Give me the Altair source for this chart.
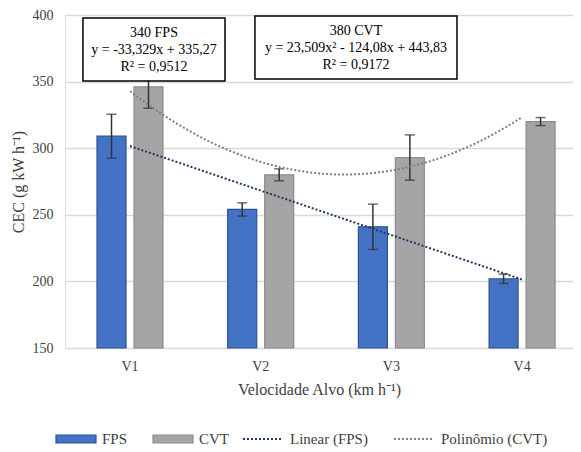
import altair as alt
import pandas as pd

# ---------------- data ----------------
categories = ["V1", "V2", "V3", "V4"]
cat_index = [1, 2, 3, 4]
fps_mean = [309, 254, 241, 202]
fps_sd = [16.5, 5, 17, 3.5]
cvt_mean = [346, 280, 293, 320]
cvt_sd = [16, 4.5, 17, 3]
series_names = ["FPS", "CVT"]
series_fill = ["#4472C4", "#A5A5A5"]
trend_names = ["Linear (FPS)", "Polinômio (CVT)"]
trend_colors = ["#203864", "#7F7F7F"]
y_ticks = [150, 200, 250, 300, 350, 400]
box_fps_lines = ["340 FPS", "y = -33,329x + 335,27", "R² = 0,9512"]
box_cvt_lines = ["380 CVT", "y = 23,509x² - 124,08x + 443,83", "R² = 0,9172"]
# annotation boxes (data space: category index / CEC value)
box_x0 = [0.64, 1.956]
box_x1 = [1.727, 3.502]
box_y0 = [350.4, 352.0]
box_y1 = [397.7, 399.2]
box_text_y = [386.5, 388.0]

FONT = "Liberation Serif"
W, H = 508, 333
N = len(categories)
P_IN, P_OUT, ALIGN = 0.495, 0.191, 0.641

rows = []
for s, means, sds in (("FPS", fps_mean, fps_sd), ("CVT", cvt_mean, cvt_sd)):
    for c, i, m, sd in zip(categories, cat_index, means, sds):
        rows.append({"cat": c, "idx": i, "series": s, "val": m,
                     "lo": m - sd, "hi": m + sd, "base": 150})
df = pd.DataFrame(rows)

boxes = pd.DataFrame({
    "x0": box_x0, "x1": box_x1, "y0": box_y0, "y1": box_y1,
    "xc": [(a + b) / 2 for a, b in zip(box_x0, box_x1)],
    "yc": box_text_y,
    "lines": [box_fps_lines, box_cvt_lines],
})

# quantitative x domain aligned with band centres
step = W / (N - P_IN + 2 * P_OUT)
band_start = (W - step * (N - P_IN)) * ALIGN
center0 = band_start + step * (1 - P_IN) / 2
qdom = [1 - center0 / step, 1 + (W - center0) / step]

yscale = alt.Scale(domain=[150, 400], nice=False, zero=False)

xband = alt.X("cat:N", scale=alt.Scale(paddingInner=P_IN, paddingOuter=P_OUT,
                                       align=ALIGN, round=False),
              sort=categories,
              axis=alt.Axis(title="Velocidade Alvo (km h⁻¹)", labelAngle=0,
                            domain=False, ticks=False, labelPadding=11,
                            titlePadding=8, labelFontSize=14, titleFontSize=16,
                            labelColor="#404040", titleColor="#404040",
                            titleFontWeight="normal", labelFont=FONT,
                            titleFont=FONT))
xoff = alt.XOffset("series:N", sort=series_names,
                   scale=alt.Scale(domain=series_names, paddingInner=0.216,
                                   paddingOuter=0))

base = alt.Chart(df)

bars = base.mark_bar(strokeWidth=1.2).encode(
    x=xband, xOffset=xoff,
    y=alt.Y("val:Q", scale=yscale,
            axis=alt.Axis(values=y_ticks, title="CEC (g kW h⁻¹)", domain=False,
                          ticks=False, labelPadding=12, grid=True,
                          gridColor="#D9D9D9", gridWidth=1.5,
                          labelFontSize=14, titleFontSize=16,
                          labelColor="#404040", titleColor="#404040",
                          titleFontWeight="normal", labelFont=FONT,
                          titleFont=FONT, titleX=-39)),
    y2="base:Q",
    color=alt.Color("series:N", sort=series_names,
                    scale=alt.Scale(domain=series_names, range=series_fill),
                    legend=alt.Legend(title=None, orient="none", direction="horizontal",
                                      legendX=-10, legendY=403,
                                      symbolType="M-1,-0.2H1V0.2H-1Z",
                                      symbolSize=1600, symbolStrokeWidth=1.2,
                                      symbolStrokeColor="#2F528F",
                                      labelFontSize=15, labelFont=FONT,
                                      labelColor="#404040", labelOffset=5,
                                      columnPadding=22)),
    stroke=alt.Stroke("series:N", sort=series_names,
                      scale=alt.Scale(domain=series_names,
                                      range=["#2F528F", "#8C8C8C"]),
                      legend=None),
)

err = base.mark_rule(color="#333333", strokeWidth=1.5).encode(
    x=alt.X("cat:N", sort=categories), xOffset=alt.XOffset("series:N", sort=series_names),
    y="lo:Q", y2="hi:Q")
cap_lo = base.mark_tick(color="#333333", thickness=1.5, size=10, orient="horizontal").encode(
    x=alt.X("cat:N", sort=categories), xOffset=alt.XOffset("series:N", sort=series_names),
    y="lo:Q")
cap_hi = base.mark_tick(color="#333333", thickness=1.5, size=10, orient="horizontal").encode(
    x=alt.X("cat:N", sort=categories), xOffset=alt.XOffset("series:N", sort=series_names),
    y="hi:Q")

band_layer = alt.layer(bars, err, cap_lo, cap_hi)

xq = alt.X("idx:Q", scale=alt.Scale(domain=qdom, nice=False, zero=False), axis=None)

trend_color = alt.Color("trend:N", sort=trend_names,
                        scale=alt.Scale(domain=trend_names, range=trend_colors),
                        legend=alt.Legend(title=None, orient="none", direction="horizontal",
                                          legendX=177, legendY=403,
                                          symbolType="stroke", symbolSize=1600,
                                          symbolStrokeWidth=2, symbolDash=[2, 2],
                                          labelFontSize=15, labelFont=FONT,
                                          labelColor="#404040", labelOffset=6,
                                          columnPadding=22))

lin = base.transform_filter(alt.datum.series == "FPS").transform_regression(
    "idx", "val", method="linear", extent=[1, 4]
).transform_calculate(trend="'Linear (FPS)'").mark_line(
    strokeWidth=2, strokeDash=[2, 2]).encode(
    x=xq, y=alt.Y("val:Q"), color=trend_color)

poly = base.transform_filter(alt.datum.series == "CVT").transform_regression(
    "idx", "val", method="poly", order=2, extent=[1, 4]
).transform_calculate(trend="'Polinômio (CVT)'").mark_line(
    strokeWidth=2, strokeDash=[2, 2]).encode(
    x=alt.X("idx:Q"), y=alt.Y("val:Q"), color=trend_color)

box_rect = alt.Chart(boxes).mark_rect(fill="white", stroke="black", strokeWidth=1.5).encode(
    x=alt.X("x0:Q"), x2="x1:Q", y=alt.Y("y0:Q"), y2="y1:Q")
box_text = alt.Chart(boxes).mark_text(font=FONT, fontSize=14, color="black",
                                      lineHeight=17, baseline="middle", align="center").encode(
    x=alt.X("xc:Q"), y=alt.Y("yc:Q"), text="lines")

quant_layer = alt.layer(lin, poly, box_rect, box_text)

chart = alt.layer(band_layer, quant_layer).resolve_scale(
    x="independent", color="independent", stroke="independent"
).properties(
    width=W, height=H,
    autosize=alt.AutoSizeParams(type="none"),
    padding={"left": 57, "top": 7, "right": 0, "bottom": 100},
).configure_view(stroke=None).configure(font=FONT)

chart.save("out.html", embed_options={"renderer": "svg", "actions": False})
